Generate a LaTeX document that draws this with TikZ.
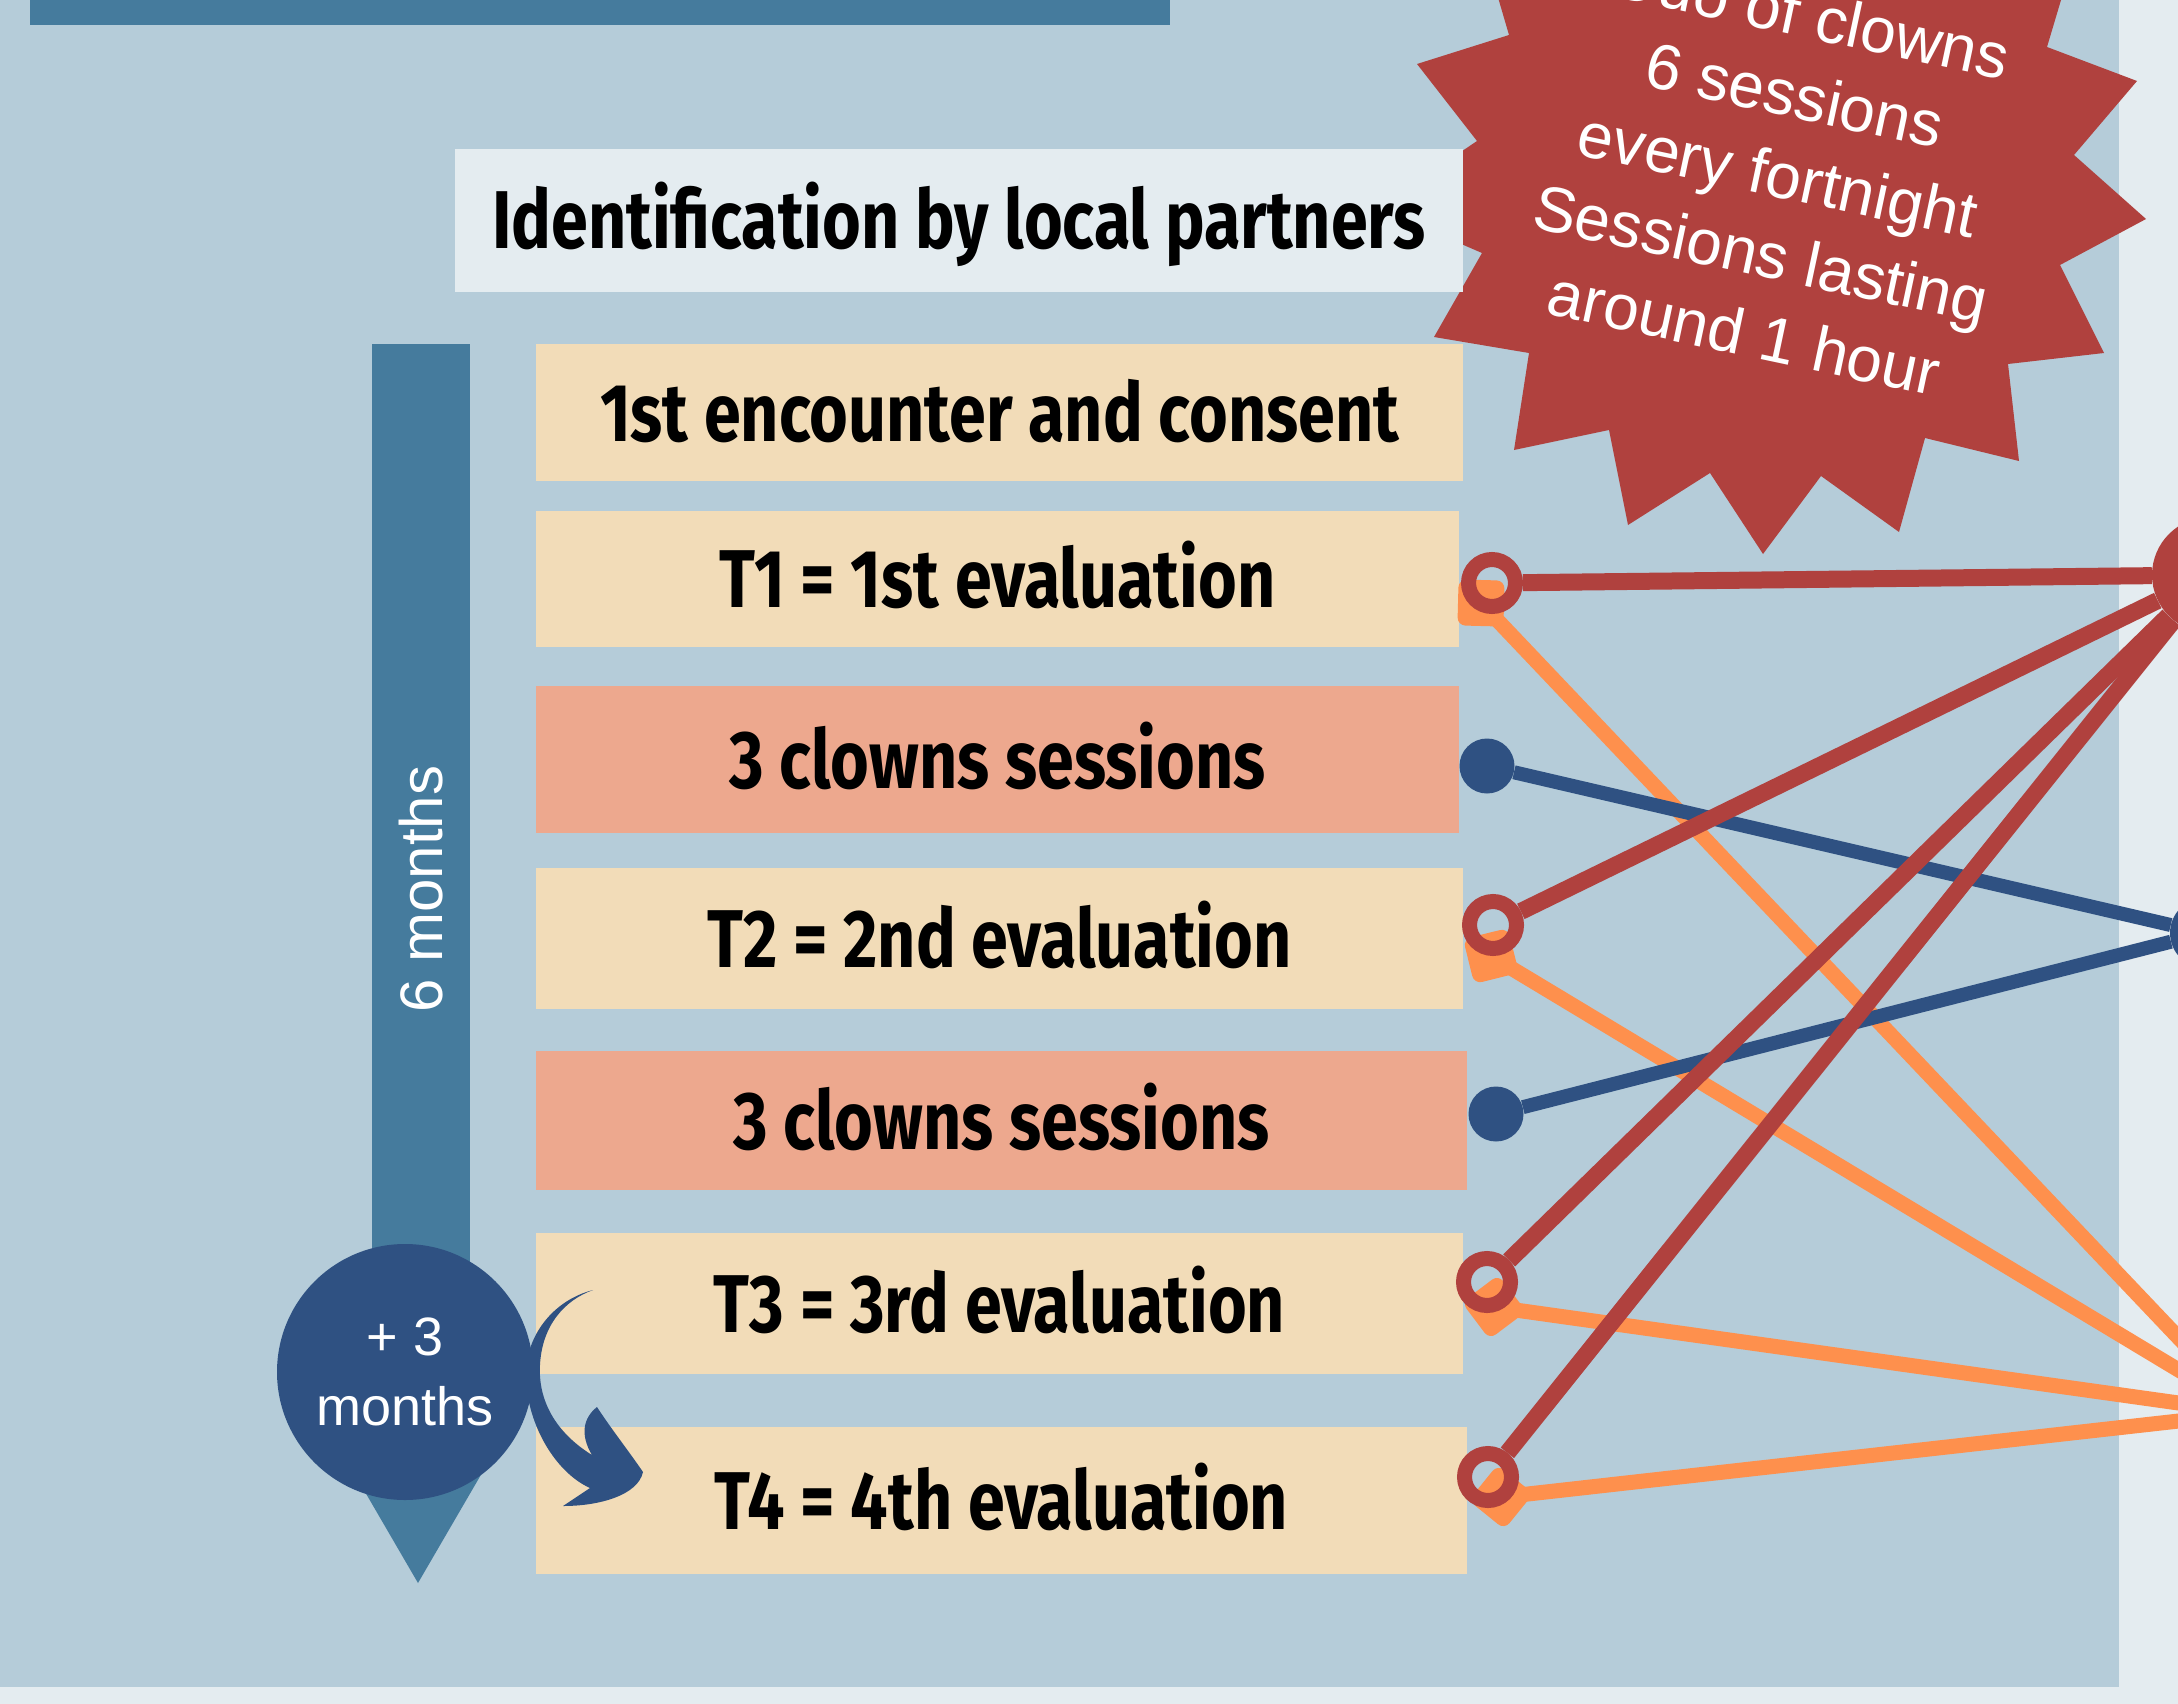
\documentclass[tikz,border=0pt]{standalone}
\usepackage{fontspec}
\setmainfont{Liberation Sans}
\newfontfamily\boxfont[FakeStretch=0.81]{Fira Sans}
\definecolor{bglight}{HTML}{E4ECF0}
\definecolor{cpanel}{HTML}{B5CCD9}
\definecolor{cteal}{HTML}{457B9D}
\definecolor{cwheat}{HTML}{F2DCB8}
\definecolor{csalmon}{HTML}{EDA88E}
\definecolor{cred}{HTML}{B0413E}
\definecolor{corange}{HTML}{FE904D}
\definecolor{cblue}{HTML}{2F5182}
\begin{document}
\begin{tikzpicture}[x=1pt,y=-1pt,
  stepbox/.style={inner sep=0pt, outer sep=0pt, text height=57pt, text depth=0pt,
    font={\boxfont\bfseries\fontsize{82}{90}\selectfont}, text=black},
  evalbox/.style={stepbox, fill=cwheat},
  clownbox/.style={stepbox, fill=csalmon},
  identbox/.style={stepbox, fill=bglight},
  ring/.style={circle, draw=cred, line width=15pt, minimum size=47pt, inner sep=0pt},
  bdot/.style={circle, fill=cblue, minimum size=55pt, inner sep=0pt},
  omark/.style={rectangle, fill=corange, minimum size=46pt, inner sep=0pt, rounded corners=8pt},
  redline/.style={draw=cred, line width=17pt},
  orangeline/.style={draw=corange, line width=15pt},
  blueline/.style={draw=cblue, line width=14pt},
  whitetext/.style={text=white, align=center, inner sep=0pt}
]
\useasboundingbox (0,0) rectangle (2178,1704);
\clip (0,0) rectangle (2178,1704);
% backgrounds
\fill[bglight] (0,0) rectangle (2178,1704);
\fill[cpanel] (0,0) rectangle (2119,1687);
\fill[cteal] (30,0) rectangle (1170,25);
% starburst
\fill[cred] (1480,-64) -- (1509,35) -- (1417,64) -- (1477,141) -- (1378,208) -- (1482,253)
  -- (1434,337) -- (1529,353) -- (1514,450) -- (1609,430) -- (1628,525) -- (1710,473)
  -- (1763,554) -- (1821,476) -- (1899,532) -- (1925,438) -- (2019,461) -- (2008,364)
  -- (2104,353) -- (2060,265) -- (2146,219) -- (2074,155) -- (2137,81) -- (2047,47)
  -- (2075,-47) -- (2000,-150) -- (1500,-150) -- cycle;
\node[whitetext, rotate=-12, font=\fontsize{64}{81}\selectfont] (startext) at (1778,174)
  {Duo of clowns\\6 sessions\\every fortnight\\Sessions lasting\\around 1 hour};
% timeline
\fill[cteal] (372,344) rectangle (470,1440);
\fill[cteal] (329,1430) -- (507,1430) -- (418,1583) -- cycle;
\node[whitetext, rotate=90, font=\fontsize{60}{70}\selectfont] (sixm) at (421,889) {6 months};
% boxes
\node[identbox, minimum width=1008pt, minimum height=143pt] (ident) at (959,220.5) {Identification by local partners};
\node[evalbox, minimum width=927pt, minimum height=137pt] (enc) at (999.5,412.5) {1st encounter and consent};
\node[evalbox, minimum width=923pt, minimum height=136pt] (t1) at (997.5,579) {T1 = 1st evaluation};
\node[clownbox, minimum width=923pt, minimum height=147pt] (cs1) at (997.5,759.5) {3 clowns sessions};
\node[evalbox, minimum width=927pt, minimum height=141pt] (t2) at (999.5,938.5) {T2 = 2nd evaluation};
\node[clownbox, minimum width=931pt, minimum height=139pt] (cs2) at (1001.5,1120.5) {3 clowns sessions};
\node[evalbox, minimum width=927pt, minimum height=141pt] (t3) at (999.5,1303.5) {T3 = 3rd evaluation};
\node[evalbox, minimum width=931pt, minimum height=147pt] (t4) at (1001.5,1500.5) {T4 = 4th evaluation};
% end points (right column, partly off canvas)
\node[circle, fill=cred, minimum size=116pt, inner sep=0pt] (redend) at (2210,575) {};
\node[circle, fill=cblue, minimum size=70pt, inner sep=0pt] (blueend) at (2205,933) {};
\coordinate (orangeend) at (2250,1413);
% orange connectors
\node[omark, rotate=-1.5] (o1) at (1481,603) {};
\node[omark, rotate=14] (o2) at (1491,956) {};
\node[omark, rotate=37] (o3) at (1494,1307) {};
\node[omark, rotate=51] (o4) at (1501,1497) {};
\draw[orangeline] (o1.center) -- (orangeend);
\draw[orangeline] (o2.center) -- (orangeend);
\draw[orangeline] (o3.center) -- (orangeend);
\draw[orangeline] (o4.center) -- (orangeend);
% blue connectors
\node[bdot] (b1) at (1487,766) {};
\node[bdot] (b2) at (1496,1114) {};
\draw[blueline] (b1) -- (blueend);
\draw[blueline] (b2) -- (blueend);
% red connectors
\node[ring] (r1) at (1492,583) {};
\node[ring] (r2) at (1493,925) {};
\node[ring] (r3) at (1487,1282) {};
\node[ring] (r4) at (1488,1477) {};
\draw[redline] (r1) -- (redend);
\draw[redline] (r2) -- (redend);
\draw[redline] (r3) -- (redend);
\draw[redline] (r4) -- (redend);
% +3 months
\node[circle, fill=cblue, minimum size=256pt, inner sep=0pt, text=white, align=center,
  font=\fontsize{54}{70}\selectfont] (plus) at (405,1372) {+ 3\\months};
\fill[cblue] (593,1290) .. controls (565,1297) and (535,1320) .. (527,1360)
  .. controls (520,1410) and (550,1470) .. (590,1488)
  -- (563,1506)
  .. controls (600,1506) and (638,1495) .. (643,1472)
  .. controls (628,1450) and (612,1430) .. (597,1407)
  .. controls (583,1418) and (580,1435) .. (592,1455)
  .. controls (555,1432) and (538,1400) .. (540,1365)
  .. controls (542,1325) and (565,1300) .. (593,1290) -- cycle;
\end{tikzpicture}
\end{document}
